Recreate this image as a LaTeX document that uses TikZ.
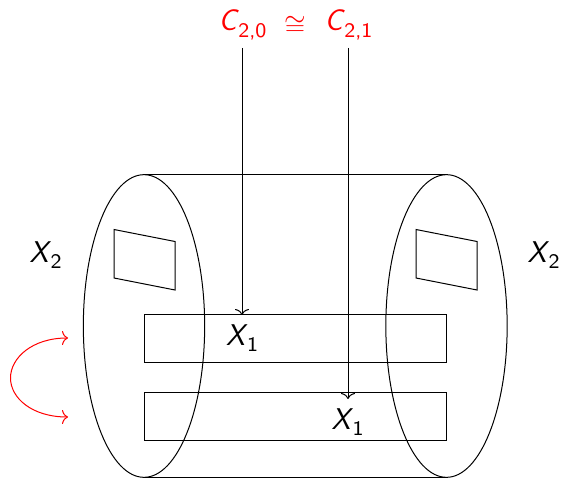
\documentclass[tikz,border=0pt]{standalone}
\usepackage{fontspec}
\usepackage{amssymb}
\usetikzlibrary{shapes.geometric,arrows.meta}
\newfontfamily\subfont[Extension=.otf]{lmsans8-regular}
\newcommand{\labX}[2]{\textsf{\itshape #1}\kern-0.02em\raisebox{-0.22em}{\subfont\fontsize{15.5}{15.5}\selectfont #2}}
\tikzset{
  x=0.75pt,y=-0.75pt,
  every path/.style={line width=0.75pt},
  txt/.style={inner sep=0pt,font=\fontsize{22.5}{24}\selectfont},
  redtxt/.style={txt,text=red},
  isotxt/.style={inner sep=0pt,text=red,font=\fontsize{22}{24}\selectfont},
  disc/.style={draw,ellipse,inner sep=0pt,outer sep=0pt,minimum width=91pt,minimum height=227pt},
  band/.style={draw,rectangle,inner sep=0pt,outer sep=0pt,minimum width=226.5pt,minimum height=36pt},
  conn/.style={-{Computer Modern Rightarrow[width=10.5pt,length=4.5pt]}},
}
\begin{document}
\begin{tikzpicture}
\useasboundingbox (0,0) rectangle (562,478);
\node[disc] (EL) at (144,326) {};
\node[disc] (ER) at (446.5,326) {};
\draw (EL.north) -- (ER.north);
\draw (EL.south) -- (ER.south);
\node[band] (B1) at (295,338.4) {};
\node[band] (B2) at (295,416.4) {};
\draw (114,229.5) -- (175,241.5) -- (175,290) -- (114,278) -- cycle;
\draw (416,229.5) -- (477,241.5) -- (477,290) -- (416,278) -- cycle;
\node[txt] (XL) at (45.5,255) {\labX{X}{2}};
\node[txt] (XR) at (543.5,255) {\labX{X}{2}};
\node[txt] (X1a) at (242,338) {\labX{X}{1}};
\node[txt] (X1b) at (347.5,422) {\labX{X}{1}};
\node[redtxt] (C0) at (242.5,25) {\labX{C}{2,0}};
\node[isotxt] (iso) at (295,26) {$\cong$};
\node[redtxt] (C1) at (348.5,25) {\labX{C}{2,1}};
\coordinate (s0) at (242,48);
\coordinate (t0) at (242,315);
\coordinate (s1) at (348,48);
\coordinate (t1) at (348,399);
\draw[conn] (s0) -- (t0);
\draw[conn] (s1) -- (t1);
\coordinate (r0) at (68,338);
\coordinate (r1) at (68,417);
\coordinate (rm) at (10.5,378);
\draw[conn,red] (rm) .. controls (10.5,358) and (32,338) .. (r0);
\draw[conn,red] (rm) .. controls (10.5,398) and (32,417) .. (r1);
\end{tikzpicture}
\end{document}
